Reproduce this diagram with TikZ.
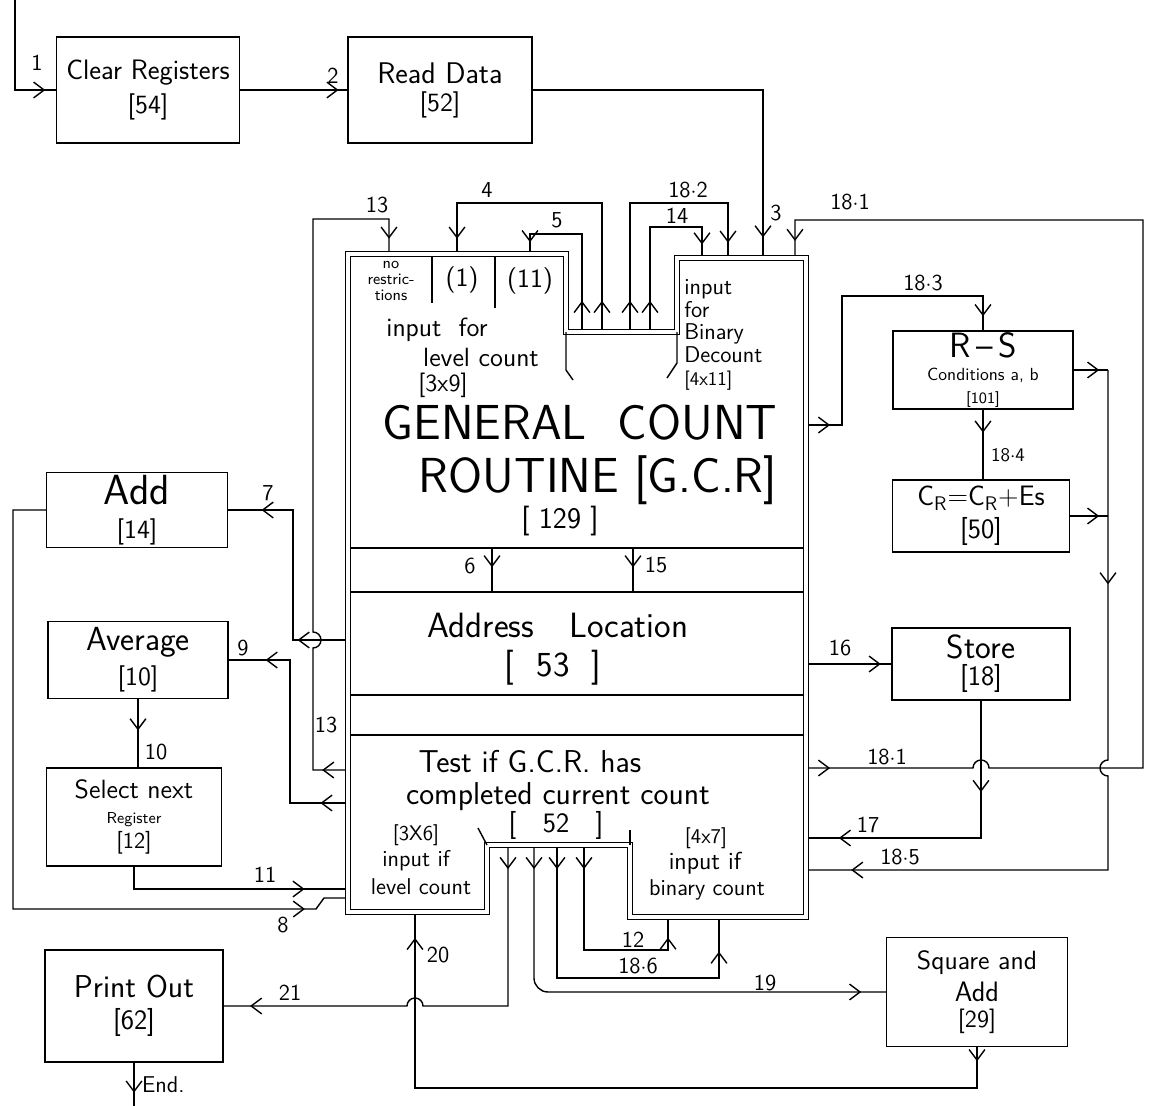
\documentclass[tikz,border=0pt]{standalone}
\usepackage{tikz}
\usetikzlibrary{arrows.meta,positioning,calc,decorations.markings}

\newcommand{\fsz}[1]{\fontsize{#1}{#1}\selectfont}
\newcommand{\cdt}{$\cdot$}

\begin{document}
\begin{tikzpicture}[
  x=0.02cm, y=-0.02cm,
  font=\sffamily,
  box/.style={draw, line width=0.8pt, align=center, inner sep=1pt},
  wire/.style={line width=0.8pt},
  arr/.style={postaction={decorate, decoration={markings,
      mark=at position #1 with {\arrow{Straight Barb[length=6pt,width=9pt]}}}}},
  num/.style={inner sep=1pt, font=\sffamily\fsz{13}},
  txt/.style={inner sep=0pt, align=center},
  gcr/.style={line width=0.7pt, double, double distance=2pt}
]
\useasboundingbox (0,0) rectangle (1154,1106);

% boxes
\node[box, minimum width=3.66cm, minimum height=2.12cm] (clr) at (148,90)
  {\fsz{16}Clear Registers\\[4pt]\fsz{15}[54]};
\node[box, minimum width=3.68cm, minimum height=2.12cm] (read) at (440,90)
  {\fsz{17}Read Data\\[4pt]\fsz{15}[52]};
\node[box, minimum width=3.62cm, minimum height=1.5cm] (add) at (137,510)
  {\fsz{24}Add\\[7pt]\fsz{15}[14]};
\node[box, minimum width=3.6cm, minimum height=1.54cm] (avg) at (138,660)
  {\fsz{19}Average\\[4pt]\fsz{15}[10]};
\node[box, minimum width=3.5cm, minimum height=1.96cm] (sel) at (134,817)
  {\fsz{15}Select next\\[2pt]\fsz{9}Register\\[2pt]\fsz{13}[12]};
\node[box, minimum width=3.56cm, minimum height=2.24cm] (prt) at (134,1006)
  {\fsz{18}Print Out\\[5pt]\fsz{16}[62]};
\node[box, minimum width=3.6cm, minimum height=1.5cm] (rs) at (983,370)
  {\fsz{20}R\,\textendash\,S\\[1pt]\fsz{10}Conditions a, b\\[1pt]\fsz{9}[101]};
\node[box, minimum width=3.54cm, minimum height=1.44cm] (cr) at (981,516)
  {\fsz{16}C\textsubscript{R}=C\textsubscript{R}+Es\\[3pt]\fsz{16}[50]};
\node[box, minimum width=3.56cm, minimum height=1.44cm] (store) at (981,664)
  {\fsz{19}Store\\[2pt]\fsz{16}[18]};
\node[box, minimum width=3.62cm, minimum height=2.18cm] (sq) at (977,992)
  {\fsz{15}Square and\\[3pt]\fsz{16}Add\\[3pt]\fsz{14}[29]};

% general count routine
\draw[gcr] (348,254) -- (566,254) -- (566,332) -- (677,332) -- (677,258)
  -- (806,258) -- (806,917) -- (630,917) -- (630,845) -- (487,845)
  -- (487,912) -- (348,912) -- cycle;
\draw[wire] (566,332) -- (566,370) -- (573,380);
\draw[wire] (677,332) -- (677,363) -- (667,378);
\draw[wire] (487,845) -- (478,828);
\draw[wire] (630,845) -- (630,830);
\draw[wire] (432,256) -- (432,303);
\draw[wire] (495,256) -- (495,308);
\foreach \yy in {548,592,695,735}
  \draw[wire] (350,\yy) -- (804,\yy);

\node[txt, font=\sffamily\fsz{9}] (t-nr) at (391,281) {no\\restric-\\tions};
\node[txt] (t-1) at (462,280) {\fsz{15}(1)};
\node[txt] (t-11) at (530,281) {\fsz{15}(11)};
\node[txt] (t-inl1) at (437,330) {\fsz{15}input\ \ for};
\node[txt] (t-inl2) at (481,357) {\fsz{15}level count};
\node[txt] (t-inl3) at (443,385) {\fsz{14}[3x9]};
\node[txt, align=left, anchor=north west, font=\sffamily\fsz{13}] (t-inb) at (684,279)
  {input\\for\\Binary\\Decount\\\fsz{11}[4x11]};
\node[txt] (t-gc1) at (580,422) {\fsz{28}GENERAL\ \ COUNT};
\node[txt] (t-gc2) at (598,480) {\fsz{28}ROUTINE [G.C.R]};
\node[txt] (t-gc3) at (560,521) {\fsz{17}[\ 129\ ]};
\node[txt] (t-addr) at (558,625) {\fsz{20}Address\quad Location};
\node[txt] (t-addr2) at (553,668) {\fsz{20}[\ \ 53\ \ ]};
\node[txt] (t-test1) at (530,762) {\fsz{18}Test if\ G.C.R.\ has};
\node[txt] (t-test2) at (558,797) {\fsz{18}completed current count};
\node[txt] (t-test3) at (556,825) {\fsz{16}[\ \ \ 52\ \ \ ]};
\node[txt] (t-lv1) at (416,835) {\fsz{12}[3X6]};
\node[txt] (t-lv2) at (416,861) {\fsz{13}input if};
\node[txt] (t-lv3) at (421,887) {\fsz{13}level count};
\node[txt] (t-bn1) at (706,838) {\fsz{12}[4x7]};
\node[txt] (t-bn2) at (705,863) {\fsz{14}input if};
\node[txt] (t-bn3) at (707,890) {\fsz{13}binary count};

% ports of the routine
\coordinate (in13) at (389,251);
\coordinate (in4) at (457,251);
\coordinate (in5) at (530,251);
\coordinate (in14) at (702,255);
\coordinate (in182) at (728,255);
\coordinate (in3) at (763,255);
\coordinate (in181) at (795,255);
\coordinate (o5) at (582,329);
\coordinate (o4) at (602,329);
\coordinate (o182) at (630,329);
\coordinate (o14) at (650,329);
\coordinate (g7) at (345,640);
\coordinate (g13) at (345,770);
\coordinate (g9) at (345,803);
\coordinate (g11) at (345,889);
\coordinate (g8) at (345,898);
\coordinate (gR) at (809,0);
\coordinate (g183) at (809,425);
\coordinate (g181) at (809,768);
\coordinate (g17) at (809,838);
\coordinate (g185) at (809,870);
\coordinate (o21) at (508,848);
\coordinate (o19) at (534,848);
\coordinate (o186) at (557,848);
\coordinate (o12) at (584,848);
\coordinate (b12) at (668,920);
\coordinate (b186) at (719,920);
\coordinate (b20) at (415,915);
\coordinate (col) at (1108,0);
\coordinate (a6) at (492,548);
\coordinate (a6e) at (492,592);
\coordinate (a15) at (633,548);
\coordinate (a15e) at (633,592);
\coordinate (start) at (15,0);
\coordinate (fin) at ($(prt.south)+(0,44)$);

% connectors
\draw[wire, arr=-6pt] (start) |- (clr.west);
\draw[wire, arr=-5pt] (clr.east) -- (read.west);
\draw[wire, arr=-10pt] (read.east) -| (in3);
\draw[wire, arr=16pt, arr=-7pt] (o4) |- (457,203) -- (in4);
\draw[wire, arr=16pt, arr=-5pt] (o5) |- (530,234) -- (in5);
\draw[wire, arr=16pt, arr=-7pt] (o182) |- (728,203) -- (in182);
\draw[wire, arr=16pt, arr=-6pt] (o14) |- (702,227) -- (in14);
\draw[wire, arr=13pt, arr=-7pt] (g13) -- (313,770) -- (313,648)
  arc[start angle=90, end angle=-90, radius=8] -- (313,219) -| (in13);
\draw[wire, arr=27pt, arr=-19pt] (g7) -- (293,640) |- (add.east);
\draw[wire, arr=14pt, arr=-21pt] (g9) -- (290,803) |- (avg.east);
\draw[wire, arr=-21pt] (avg.south) -- (avg.south |- sel.north);
\draw[wire, arr=-23pt] (sel.south) |- (g11);
\draw[wire, arr=-26pt] (add.west) -- (13,510) |- (316,909) -- (324,898) -- (g8);
\draw[wire, arr=11pt] (a6) -- (a6e);
\draw[wire, arr=11pt] (a15) -- (a15e);

\draw[wire, arr=12pt, arr=-8pt] (g183) -| (842,296) -| (rs.north);
\draw[wire, arr=13pt] (rs.south) -- (rs.south |- cr.north);
\draw[wire, arr=-5pt] (rs.east) -- (rs.east -| col);
\draw[wire, arr=-5pt] (cr.east) -- (cr.east -| col);
\draw[wire, arr=122pt, arr=-24pt] (rs.east -| col) -- (1108,760)
  arc[start angle=-90, end angle=-270, radius=8] -- (1108,870) -- (g185);
\draw[wire, arr=-6pt] (gR |- store.west) -- (store.west);
\draw[wire, arr=52pt, arr=-17pt] (store.south) |- (g17);
\draw[wire, arr=12pt, arr=-8pt] (g181) -- (973,768)
  arc[start angle=180, end angle=360, radius=8] -- (1143,768) |- (795,220) -- (in181);

\draw[wire, arr=12pt, arr=-15pt] (o21) -- (508,1006) -- (423,1006)
  arc[start angle=0, end angle=-180, radius=8] -- (prt.east);
\draw[wire, rounded corners=8pt, arr=12pt, arr=-14pt] (o19) |- (sq.west);
\draw[wire, arr=12pt, arr=-18pt] (o186) |- (719,978) -- (b186);
\draw[wire, arr=12pt, arr=-10pt] (o12) |- (668,950) -- (b12);
\draw[wire, arr=8pt, arr=-13pt] (sq.south) |- (415,1088) -- (b20);
\draw[wire, arr=-8pt] (prt.south) -- (fin);

% connector numbers
\node[num] (l1) at (37,63) {1};
\node[num] (l2) at (333,76) {2};
\node[num] (l3) at (776,213) {3};
\node[num] (l4) at (487,190) {4};
\node[num] (l5) at (557,220) {5};
\node[num] (l13a) at (377,205) {13};
\node[num] (l182) at (688,190) {18\cdt2};
\node[num] (l14) at (677,216) {14};
\node[num] (l181a) at (850,202) {18\cdt1};
\node[num] (l183) at (923,283) {18\cdt3};
\node[num, font=\sffamily\fsz{11}] (l184) at (1008,455) {18\cdt4};
\node[num] (l7) at (268,493) {7};
\node[num] (l9) at (243,648) {9};
\node[num] (l13b) at (326,725) {13};
\node[num] (l10) at (156,752) {10};
\node[num] (l11) at (265,875) {11};
\node[num] (l8) at (283,925) {8};
\node[num] (l6) at (470,566) {6};
\node[num] (l15) at (656,565) {15};
\node[num] (l16) at (840,648) {16};
\node[num] (l181b) at (887,757) {18\cdt1};
\node[num] (l17) at (868,825) {17};
\node[num] (l185) at (900,857) {18\cdt5};
\node[num] (l12) at (633,940) {12};
\node[num] (l186) at (638,966) {18\cdt6};
\node[num] (l19) at (765,983) {19};
\node[num] (l20) at (438,955) {20};
\node[num] (l21) at (290,993) {21};
\node[num, anchor=west] (lend) at (140,1085) {End.};
\end{tikzpicture}
\end{document}
